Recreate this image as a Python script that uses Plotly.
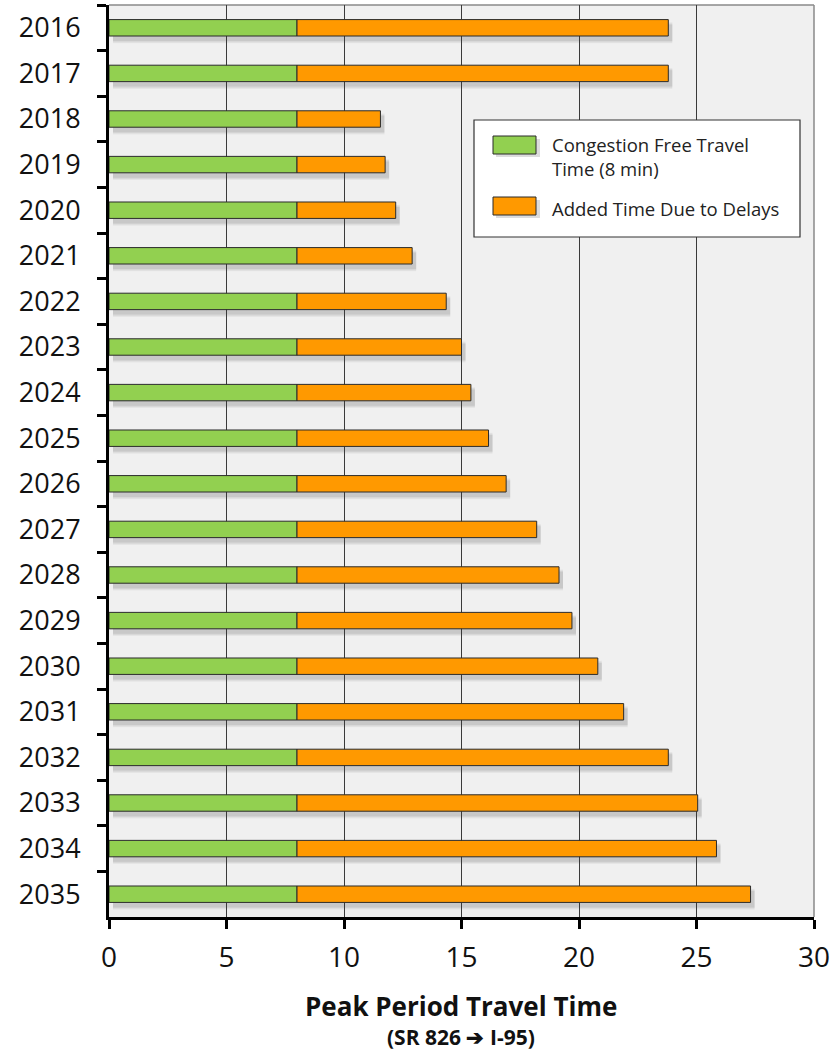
import plotly.graph_objects as go

# Peak period travel time, SR 826 -> I-95 (minutes)
years = [str(y) for y in range(2016, 2036)]
free_flow = [8] * 20
delay = [15.8, 15.8, 3.55, 3.75, 4.2, 4.9, 6.35, 7.0, 7.4, 8.15,
         8.9, 10.2, 11.15, 11.7, 12.8, 13.9, 15.8, 17.05, 17.85, 19.3]
total = [f + d for f, d in zip(free_flow, delay)]

x_ticks = [0, 5, 10, 15, 20, 25, 30]

GREEN = "#92d050"
ORANGE = "#ff9900"
EDGE = "#2b2b2b"
FONT = "Open Sans"

BAR_W = 0.36
X_RANGE = [0, 30]
Y_RANGE = [len(years) - 0.5, -0.5]

# soft drop-shadow offsets (data units on the overlay axes)
SH_DX = 0.17
SH_DY = 0.11

fig = go.Figure()

# placeholder trace so the main category axis carries the year labels
fig.add_trace(go.Bar(y=years, x=total, orientation="h", width=BAR_W,
                     marker=dict(color="rgba(0,0,0,0)", line=dict(width=0)),
                     hoverinfo="skip", showlegend=False))

# blurred shadow layers on a shifted overlay subplot
for w, op in [(BAR_W + 0.10, 0.06), (BAR_W + 0.05, 0.08), (BAR_W, 0.10)]:
    fig.add_trace(go.Bar(y=years, x=total, orientation="h", width=w,
                         marker=dict(color=f"rgba(60,60,60,{op})", line=dict(width=0)),
                         xaxis="x2", yaxis="y2", hoverinfo="skip", showlegend=False))

# the stacked bars themselves
fig.add_trace(go.Bar(y=years, x=free_flow, orientation="h", width=BAR_W,
                     name="Congestion Free Travel Time (8 min)",
                     marker=dict(color=GREEN, line=dict(color=EDGE, width=1)),
                     xaxis="x3", yaxis="y3", showlegend=False))
fig.add_trace(go.Bar(y=years, x=delay, base=free_flow, orientation="h", width=BAR_W,
                     name="Added Time Due to Delays",
                     marker=dict(color=ORANGE, line=dict(color=EDGE, width=1)),
                     xaxis="x3", yaxis="y3", showlegend=False))

hidden = dict(visible=False, showgrid=False, zeroline=False, fixedrange=True)

fig.update_layout(
    width=835, height=1054,
    margin=dict(l=109, r=21, t=5, b=137),
    paper_bgcolor="white",
    plot_bgcolor="#f0f0f0",
    barmode="overlay",
    font=dict(family=FONT, color="#111111"),
    xaxis=dict(range=X_RANGE, tickvals=x_ticks, ticktext=[str(v) for v in x_ticks],
               showgrid=True, gridcolor="#3a3a3a", gridwidth=1,
               zeroline=False, showline=True, linecolor="black", linewidth=3,
               ticks="outside", ticklen=9, tickwidth=2.5, tickcolor="black",
               ticklabelstandoff=4,
               tickfont=dict(size=28, family=FONT, color="#111111")),
    yaxis=dict(type="category", categoryorder="array", categoryarray=years,
               range=Y_RANGE, tickson="boundaries",
               showgrid=False, zeroline=False, showline=True,
               linecolor="black", linewidth=3,
               ticks="outside", ticklen=9, tickwidth=2.5, tickcolor="black",
               ticklabelstandoff=20,
               tickfont=dict(size=27, family=FONT, color="#111111")),
    xaxis2=dict(overlaying="x", range=[X_RANGE[0] - SH_DX, X_RANGE[1] - SH_DX], **hidden),
    yaxis2=dict(overlaying="y", type="category", categoryorder="array", categoryarray=years,
                range=[Y_RANGE[0] - SH_DY, Y_RANGE[1] - SH_DY], **hidden),
    xaxis3=dict(overlaying="x", range=X_RANGE, **hidden),
    yaxis3=dict(overlaying="y", type="category", categoryorder="array", categoryarray=years,
                range=Y_RANGE, **hidden),
    showlegend=False,
)

H = 1054 - 5 - 137
W = 835 - 109 - 21


def px_x(p):
    return (p - 109) / W


def px_y(p):
    return 1 - (p - 5) / H


shapes = [
    # thin grey frame on top / right of the plotting area
    dict(type="line", xref="paper", yref="paper", x0=0, x1=1, y0=1, y1=1,
         line=dict(color="#8a8a8a", width=1.5), layer="below"),
    dict(type="line", xref="paper", yref="paper", x0=1, x1=1, y0=0, y1=1,
         line=dict(color="#8a8a8a", width=1.5), layer="below"),
    # legend box
    dict(type="rect", xref="paper", yref="paper",
         x0=px_x(474), x1=px_x(800), y0=px_y(237), y1=px_y(120),
         fillcolor="white", line=dict(color="#333333", width=1.2), layer="above"),
]

# legend swatches with small shadows
for top, col in [(136, GREEN), (197, ORANGE)]:
    shapes.append(dict(type="rect", xref="paper", yref="paper",
                       x0=px_x(496), x1=px_x(540), y0=px_y(top + 21), y1=px_y(top + 3),
                       fillcolor="rgba(60,60,60,0.18)", line=dict(width=0), layer="above"))
    shapes.append(dict(type="rect", xref="paper", yref="paper",
                       x0=px_x(493), x1=px_x(536), y0=px_y(top + 18), y1=px_y(top),
                       fillcolor=col, line=dict(color=EDGE, width=1), layer="above"))

annotations = [
    dict(xref="paper", yref="paper", x=px_x(550), y=px_y(156), xanchor="left", yanchor="middle",
         text="Congestion Free Travel<br>Time (8 min)", align="left", showarrow=False,
         font=dict(size=18.5, family=FONT, color="#222222")),
    dict(xref="paper", yref="paper", x=px_x(550), y=px_y(208), xanchor="left", yanchor="middle",
         text="Added Time Due to Delays", align="left", showarrow=False,
         font=dict(size=18.5, family=FONT, color="#222222")),
    dict(xref="paper", yref="paper", x=px_x(461), y=px_y(1006), xanchor="center", yanchor="middle",
         text="<b>Peak Period Travel Time</b>", showarrow=False,
         font=dict(size=26, family=FONT, color="#111111")),
    dict(xref="paper", yref="paper", x=px_x(461), y=px_y(1037), xanchor="center", yanchor="middle",
         text="<b>(SR 826 \u2794 I-95)</b>", showarrow=False,
         font=dict(size=21, family=FONT, color="#111111")),
]

fig.update_layout(shapes=shapes, annotations=annotations)

fig.write_html("out.html")
